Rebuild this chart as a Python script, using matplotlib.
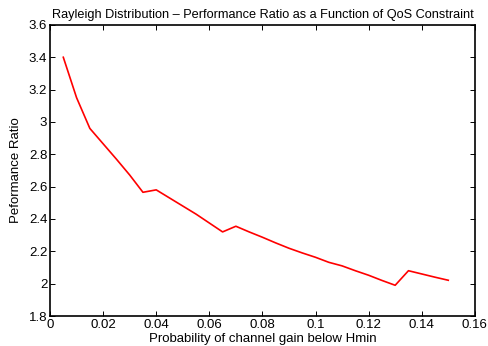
import matplotlib
matplotlib.use("Agg")
import matplotlib.pyplot as plt

prob = [0.005, 0.01, 0.015, 0.02, 0.025, 0.03, 0.035, 0.04, 0.045, 0.05, 0.055, 0.06,
        0.065, 0.07, 0.075, 0.08, 0.085, 0.09, 0.095, 0.1, 0.105, 0.11, 0.115, 0.12,
        0.125, 0.13, 0.135, 0.14, 0.145, 0.15]
ratio = [3.40, 3.15, 2.96, 2.865, 2.77, 2.672, 2.565, 2.58, 2.53, 2.48, 2.43, 2.375,
         2.32, 2.355, 2.32, 2.287, 2.252, 2.219, 2.19, 2.163, 2.132, 2.11, 2.08, 2.052,
         2.02, 1.99, 2.08, 2.06, 2.04, 2.021]
xticks = [0, 0.02, 0.04, 0.06, 0.08, 0.1, 0.12, 0.14, 0.16]
xticklabels = ["0", "0.02", "0.04", "0.06", "0.08", "0.1", "0.12", "0.14", "0.16"]
yticks = [1.8, 2.0, 2.2, 2.4, 2.6, 2.8, 3.0, 3.2, 3.4, 3.6]
yticklabels = ["1.8", "2", "2.2", "2.4", "2.6", "2.8", "3", "3.2", "3.4", "3.6"]

plt.rcParams['font.family'] = ['Liberation Sans', 'DejaVu Sans']
fig = plt.figure(figsize=(4.88, 3.46), dpi=100)
ax = fig.add_axes([0.1025, 0.0867, 0.8705, 0.8413])
ax.plot(prob, ratio, color='red', linewidth=1.2)
ax.set_xlim(0, 0.16)
ax.set_ylim(1.8, 3.6)
ax.set_xticks(xticks)
ax.set_xticklabels(xticklabels)
ax.set_yticks(yticks)
ax.set_yticklabels(yticklabels)
ax.tick_params(direction='in', top=True, right=True, labelsize=9.5, length=3.5, width=0.7, pad=2)
for s in ax.spines.values():
    s.set_linewidth(1.2)
ax.set_xlabel("Probability of channel gain below Hmin", fontsize=9.5, labelpad=1.5)
ax.set_ylabel("Peformance Ratio", fontsize=9.5, labelpad=5)
ax.set_title("Rayleigh Distribution \u2013 Performance Ratio as a Function of QoS Constraint", fontsize=9.2, pad=5)
fig.savefig("out.png", dpi=100)
